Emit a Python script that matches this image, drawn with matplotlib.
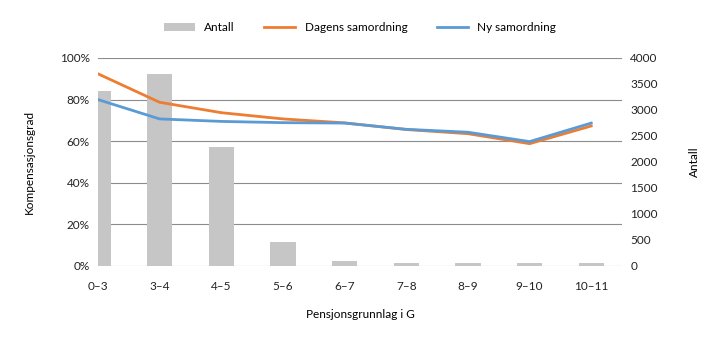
import matplotlib.pyplot as plt
import numpy as np

plt.rcParams['font.family'] = ['Lato', 'DejaVu Sans']

categories = ['0–3', '3–4', '4–5', '5–6', '6–7', '7–8', '8–9', '9–10', '10–11']
antall = [3370, 3690, 2290, 460, 90, 60, 60, 60, 60]
dagens = [0.924, 0.787, 0.737, 0.707, 0.688, 0.656, 0.636, 0.588, 0.673]
ny = [0.800, 0.707, 0.695, 0.689, 0.687, 0.657, 0.643, 0.598, 0.687]

x = np.arange(len(categories))

fig = plt.figure(figsize=(7.2, 3.41), dpi=100)
ax1 = fig.add_axes([0.136, 0.22, 0.728, 0.61])
ax2 = ax1.twinx()

# bars on the right axis, lines on the left axis drawn on top
bars = ax2.bar(x, antall, width=0.41, color='#c6c6c6', label='Antall')
ax1.set_zorder(ax2.get_zorder() + 1)
ax1.patch.set_visible(False)

l1, = ax1.plot(x, dagens, color='#ed7d31', lw=2.0, label='Dagens samordning')
l2, = ax1.plot(x, ny, color='#5b9bd5', lw=2.0, label='Ny samordning')

ax1.set_xlim(0, 8.5)
ax1.set_ylim(0, 1.0)
ax2.set_ylim(0, 4000)
ax1.set_yticks(np.arange(0, 1.01, 0.2))
ax1.set_yticklabels([f'{int(round(v*100))}%' for v in np.arange(0, 1.01, 0.2)])
ax2.set_yticks(np.arange(0, 4001, 500))
ax1.set_xticks(x)
ax1.set_xticklabels(categories)

for a in (ax1, ax2):
    for s in a.spines.values():
        s.set_visible(False)
    a.tick_params(length=0, labelsize=8.5, colors='#222222')
ax1.tick_params(axis='x', pad=11)
ax1.tick_params(axis='y', pad=6)
ax2.tick_params(axis='y', pad=6)

ax2.set_axisbelow(True)
for v in np.arange(0, 1.01, 0.2):
    ax2.axhline(v * 4000, color='#8c8c8c', lw=0.8, zorder=0)

ax1.set_ylabel('Kompensasjonsgrad', fontsize=8.5, labelpad=18)
ax2.set_ylabel('Antall', fontsize=8.5, labelpad=22)
ax1.set_xlabel('Pensjonsgrunnlag i G', fontsize=8.5, labelpad=12)

fig.legend(handles=[bars, l1, l2], loc='center', bbox_to_anchor=(0.50, 0.92),
           ncol=3, frameon=False, fontsize=8.5, columnspacing=2.5, handlelength=2.6,
           handletextpad=0.8)

fig.savefig('out.png', dpi=100)
